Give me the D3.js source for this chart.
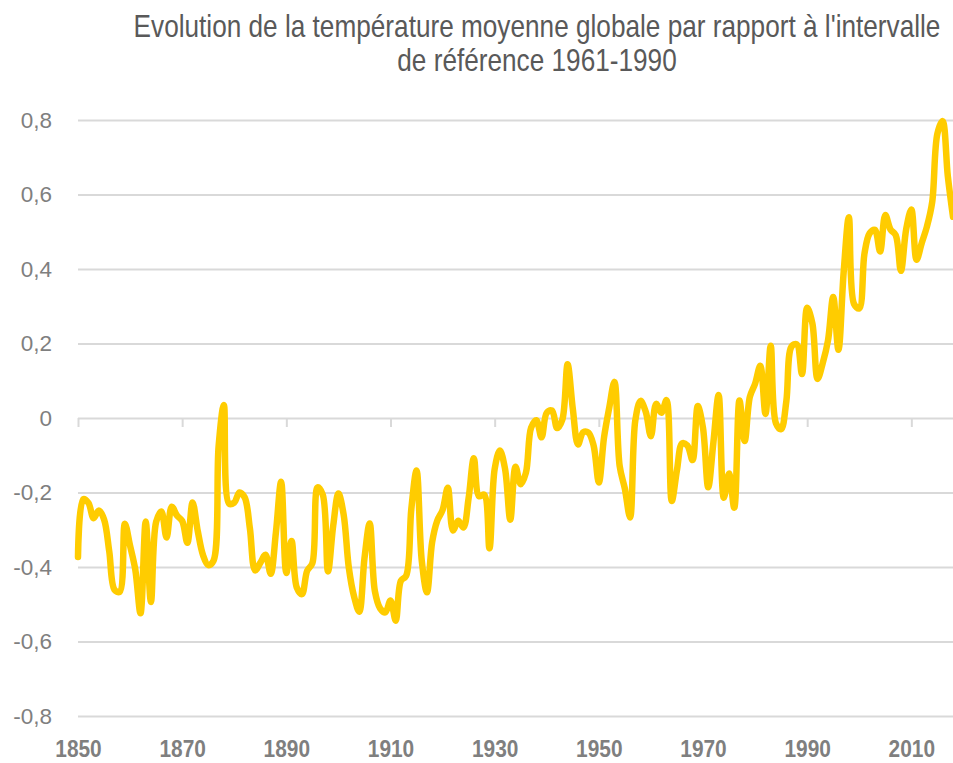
<!DOCTYPE html>
<html>
<head>
<meta charset="utf-8">
<script src="https://cdn.jsdelivr.net/npm/d3@7"></script>
<style>
  html, body { margin: 0; padding: 0; background: #fff; overflow: hidden; }
  #svg { width: 953px; height: 763px; }
  .title { font-family: "Liberation Sans", Arial, sans-serif; font-size: 31px; fill: #595959; }
  .yaxis text { font-family: "Liberation Sans", Arial, sans-serif; font-size: 22.5px; fill: #7f7f7f; }
  .xaxis text { font-family: "Liberation Sans", Arial, sans-serif; font-size: 24px; font-weight: bold; fill: #7f7f7f; }
  .chart__line { fill: none; stroke: #ffcc00; stroke-width: 6.5; stroke-linejoin: round; stroke-linecap: round; }
</style>
</head>
<body>
<div id="svg"></div>
<script>
// years 1850..2018
var firstYear = 1850;
var years = d3.range(firstYear, 2019);

// anomaly (°C) vs 1961-1990
var anomalies = [
  -0.373, -0.218, -0.228, -0.269, -0.248, -0.272, -0.358, -0.461, -0.467, -0.284,
  -0.343, -0.407, -0.524, -0.278, -0.494, -0.279, -0.251, -0.321, -0.238, -0.262,
  -0.276, -0.335, -0.227, -0.304, -0.368, -0.395, -0.384, -0.075,  0.035, -0.230,
  -0.227, -0.200, -0.213, -0.296, -0.409, -0.389, -0.367, -0.418, -0.307, -0.171,
  -0.416, -0.330, -0.455, -0.473, -0.410, -0.390, -0.186, -0.206, -0.412, -0.289,
  -0.203, -0.259, -0.402, -0.479, -0.520, -0.377, -0.283, -0.465, -0.511, -0.522,
  -0.490, -0.544, -0.437, -0.424, -0.244, -0.141, -0.383, -0.468, -0.333, -0.275,
  -0.247, -0.187, -0.302, -0.276, -0.294, -0.215, -0.108, -0.210, -0.206, -0.350,
  -0.137, -0.087, -0.137, -0.273, -0.131, -0.178, -0.147, -0.026, -0.006, -0.052,
   0.014,  0.020, -0.027, -0.004,  0.144,  0.025, -0.071, -0.038, -0.039, -0.074,
  -0.173, -0.052,  0.028,  0.097, -0.129, -0.190, -0.267, -0.007,  0.046,  0.017,
  -0.049,  0.038,  0.014,  0.048, -0.223, -0.140, -0.068, -0.074, -0.113,  0.032,
  -0.027, -0.186, -0.065,  0.062, -0.214, -0.149, -0.241,  0.047, -0.062,  0.057,
   0.092,  0.140,  0.011,  0.194, -0.014, -0.030,  0.045,  0.192,  0.198,  0.118,
   0.296,  0.254,  0.105,  0.148,  0.208,  0.325,  0.183,  0.390,  0.539,  0.306,
   0.294,  0.441,  0.496,  0.505,  0.447,  0.545,  0.506,  0.491,  0.395,  0.506,
   0.560,  0.425,  0.470,  0.514,  0.579,  0.763,  0.797,  0.650,  0.540
];

var yTicks = [-0.8, -0.6, -0.4, -0.2, 0, 0.2, 0.4, 0.6, 0.8];
var xTicks = [1850, 1870, 1890, 1910, 1930, 1950, 1970, 1990, 2010];
var titleLines = ["Evolution de la température moyenne globale par rapport à l'intervalle",
                  "de référence 1961-1990"];

var data = years.map(function(y, i){ return {id: y, value: anomalies[i]}; });

var margin = {top: 120, right: 0, bottom: 47, left: 78},
    width = 953 - margin.left - margin.right,
    height = 763 - margin.top - margin.bottom;

var x = d3.scaleLinear()
      .domain([1850, 2018])
      .range([0, width]);

var y = d3.scaleLinear()
      .domain([-0.8, 0.8])
      .range([height, 0]);

var svg = d3.select('#svg').append('svg')
            .attr('width', 953)
            .attr('height', 763);

// Title: no narrow face installed, so squeeze horizontally to the reference width
var titleG = svg.append('g');
var title = titleG.append('text')
  .attr('class', 'title')
  .attr('text-anchor', 'middle');
title.selectAll('tspan')
  .data(titleLines)
  .enter().append('tspan')
  .attr('x', 0)
  .attr('y', function(d, i){ return 37 + i * 34; })
  .text(function(d){ return d; });
var natural = title.select('tspan').node().getComputedTextLength();
titleG.attr('transform', 'translate(537,0) scale(' + (807 / natural) + ',1)');

var chartGroup = svg.append('g')
                  .attr('transform', 'translate(' + margin.left + ',' + margin.top + ')');

// Gridlines + y labels
var yAxis = d3.axisLeft(y)
      .tickValues(yTicks)
      .tickSize(-width)
      .tickPadding(26)
      .tickFormat(function(d){ return d === 0 ? '0' : d3.format('.1f')(d).replace('.', ',').replace('−', '-'); });

chartGroup.append('g')
  .attr('class', 'yaxis')
  .call(yAxis)
  .call(function(g){
    g.select('.domain').remove();
    g.selectAll('.tick line').attr('stroke', '#d9d9d9').attr('stroke-width', 2);
  });

// x axis on the 0 line
var xAxis = d3.axisBottom(x)
      .tickValues(xTicks)
      .tickSize(9)
      .tickFormat(d3.format('d'));

var xg = chartGroup.append('g')
  .attr('class', 'xaxis')
  .attr('transform', 'translate(0,' + y(0) + ')')
  .call(xAxis);
xg.select('.domain').remove();
xg.selectAll('.tick line').attr('stroke', '#d9d9d9').attr('stroke-width', 2);
// labels sit below the chart, not on the 0 line
xg.selectAll('.tick text')
  .attr('dy', null)
  .attr('y', height - y(0) + 41)
  .attr('transform', 'scale(0.87,1)');

// Line
var line = d3.line()
      .x(function(d){ return x(d.id); })
      .y(function(d){ return y(d.value); })
      .curve(d3.curveCatmullRom);

chartGroup.append('path')
  .attr('d', line(data))
  .attr('class', 'chart__line');
</script>
</body>
</html>
